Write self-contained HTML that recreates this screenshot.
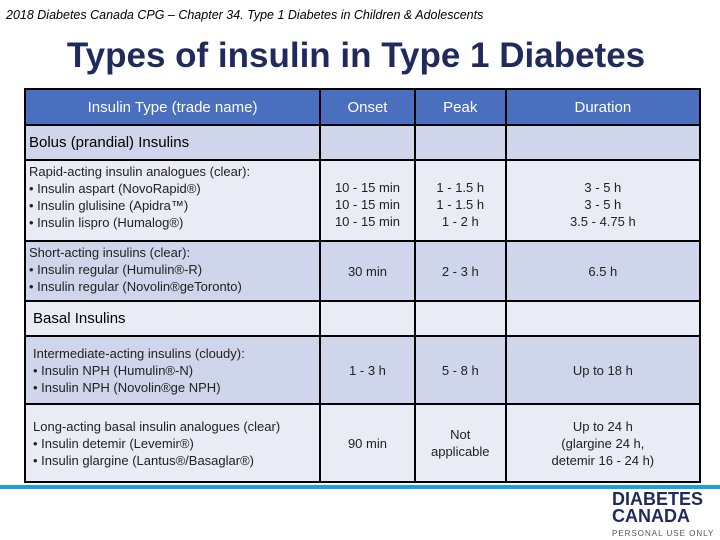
<!DOCTYPE html>
<html><head><meta charset="utf-8"><style>
body{margin:0;width:720px;height:540px;background:#fff;position:relative;overflow:hidden;font-family:"Liberation Sans",sans-serif}
.cap{position:absolute;left:6px;top:8px;font-size:12.5px;font-style:italic;color:#000}
h1{position:absolute;left:0;width:712px;top:36px;margin:0;text-align:center;font-size:35px;font-weight:bold;color:#1f2b5c}
table{position:absolute;left:24px;top:88px;width:677px;border-collapse:collapse;font-size:13px;color:#222}
td{border:2px solid #000;padding:0 3px;text-align:center;line-height:17px}
td.l{text-align:left}
.h td{background:#4a6fbf;color:#fff;font-size:15px;height:34px}
.d td{background:#cfd5ea}.e td{background:#e9ebf5}
.sec{font-size:15px;color:#000}
.line{position:absolute;left:0;top:485px;width:720px;height:4px;background:#19a0d8}
.logo{position:absolute;left:612px;top:491px;font-weight:bold;font-size:18px;line-height:17px;color:#1f2b5c}
.pu{position:absolute;left:612px;top:529px;font-size:8px;color:#555;letter-spacing:1px}
</style></head><body>
<div class="cap">2018 Diabetes Canada CPG – Chapter 34. Type 1 Diabetes in Children &amp; Adolescents</div>
<h1>Types of insulin in Type 1 Diabetes</h1>
<table>
<colgroup><col style="width:296px"><col style="width:95px"><col style="width:91px"><col style="width:195px"></colgroup>
<tr class="h"><td>Insulin Type (trade name)</td><td>Onset</td><td>Peak</td><td>Duration</td></tr>
<tr class="d" style="height:35px"><td class="l sec">Bolus (prandial) Insulins</td><td></td><td></td><td></td></tr>
<tr class="e" style="height:81px"><td class="l" style="vertical-align:top;padding-top:2px">Rapid-acting insulin analogues (clear):<br>• Insulin aspart (NovoRapid®)<br>• Insulin glulisine (Apidra™)<br>• Insulin lispro (Humalog®)</td><td style="padding-top:8px">10 - 15 min<br>10 - 15 min<br>10 - 15 min</td><td style="padding-top:8px">1 - 1.5 h<br>1 - 1.5 h<br>1 - 2 h</td><td style="padding-top:8px">3 - 5 h<br>3 - 5 h<br>3.5 - 4.75 h</td></tr>
<tr class="d" style="height:60px"><td class="l" style="vertical-align:top;padding-top:2px">Short-acting insulins (clear):<br>• Insulin regular (Humulin®-R)<br>• Insulin regular (Novolin®geToronto)</td><td>30 min</td><td>2 - 3 h</td><td>6.5 h</td></tr>
<tr class="e" style="height:35px"><td class="l sec" style="padding-left:7px">Basal Insulins</td><td></td><td></td><td></td></tr>
<tr class="d" style="height:68px"><td class="l" style="padding-left:7px">Intermediate-acting insulins (cloudy):<br>• Insulin NPH (Humulin®-N)<br>• Insulin NPH (Novolin®ge NPH)</td><td>1 - 3 h</td><td>5 - 8 h</td><td>Up to 18 h</td></tr>
<tr class="e" style="height:78px"><td class="l" style="padding-left:7px">Long-acting basal insulin analogues (clear)<br>• Insulin detemir (Levemir®)<br>• Insulin glargine (Lantus®/Basaglar®)</td><td>90 min</td><td>Not<br>applicable</td><td>Up to 24 h<br>(glargine 24 h,<br>detemir 16 - 24 h)</td></tr>
</table>
<div class="line"></div>
<div class="logo">DIABETES<br>CANADA</div>
<div class="pu">PERSONAL USE ONLY</div>
</body></html>
